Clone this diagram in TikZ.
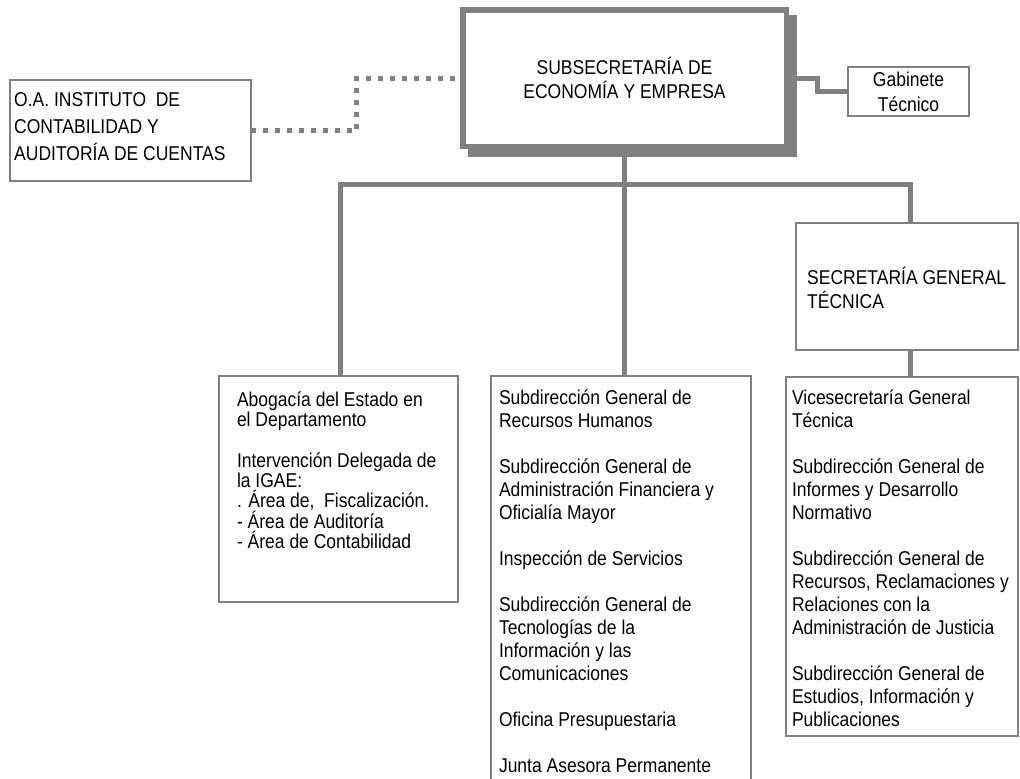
\documentclass[tikz,border=0pt]{standalone}
\usepackage{fontspec}
\setmainfont{Liberation Sans}[FakeStretch=0.875]
\usetikzlibrary{backgrounds,calc}
\definecolor{lineg}{HTML}{808080}
\begin{document}
\begin{tikzpicture}[x=1pt,y=-1pt,
  box/.style={draw=lineg, line width=2.2pt, fill=white, inner sep=0pt, outer sep=0pt},
  subbox/.style={draw=lineg, line width=5.5pt, fill=white, inner sep=0pt, outer sep=0pt, align=center,
    font=\fontsize{20}{24.5}\selectfont},
  conn/.style={draw=lineg, line width=5pt},
  dotconn/.style={draw=lineg, line width=5pt, dash pattern=on 5pt off 7pt},
  txt/.style={inner sep=0pt, outer sep=0pt, align=left, anchor=north west},
  lowfont/.style={font=\fontsize{20}{23}\selectfont},
]
\useasboundingbox (0,0) rectangle (1020,779);

% top box
\node[subbox, minimum width=323.5pt, minimum height=136.5pt] (sub) at (624.5,78)
  {SUBSECRETARÍA DE\\ECONOMÍA Y EMPRESA};
\begin{scope}[on background layer]
  \fill[lineg] ($(sub.south west)+(5.25,10.75)$) rectangle ($(sub.north east)+(10.75,5.25)$);
\end{scope}

% Gabinete
\node[box, minimum width=120.8pt, minimum height=48.8pt, align=center,
  font=\fontsize{20}{25}\selectfont] (gab) at (908.5,91.5) {Gabinete\\Técnico};

% O.A.
\node[box, minimum width=240.8pt, minimum height=100.8pt] (oa) at (130.5,130.5) {};
\node[inner sep=0pt, align=left, anchor=west, font=\fontsize{20}{27}\selectfont] (oatxt) at (14,127)
  {O.A. INSTITUTO\ \ DE\\CONTABILIDAD Y\\AUDITORÍA DE CUENTAS};

% Secretaria general tecnica
\node[box, minimum width=221.8pt, minimum height=126.8pt] (sec) at (907,286.5) {};
\node[inner sep=0pt, align=left, anchor=west, font=\fontsize{20}{23.5}\selectfont] (sectxt) at (807,288)
  {SECRETARÍA GENERAL\\TÉCNICA};

% lower boxes
\node[box, minimum width=238.8pt, minimum height=225.8pt] (abo) at (338.5,489) {};
\node[box, minimum width=259.8pt, minimum height=423.9pt] (mid) at (621,588) {};
\node[box, minimum width=231.8pt, minimum height=358.8pt] (vice) at (902,556.5) {};

\node[txt, font=\fontsize{20}{20.3}\selectfont] (abotxt) at (237,391.5)
  {Abogacía del Estado en\\el Departamento\\[20.3pt]
   Intervención Delegada de\\la IGAE:\\. Área de,\ \ Fiscalización.\\- Área de Auditoría\\- Área de Contabilidad};

\node[txt, lowfont] (midtxt) at (499,389.5)
  {Subdirección General de\\Recursos Humanos\\[23pt]
   Subdirección General de\\Administración Financiera y\\Oficialía Mayor\\[23pt]
   Inspección de Servicios\\[23pt]
   Subdirección General de\\Tecnologías de la\\Información y las\\Comunicaciones\\[23pt]
   Oficina Presupuestaria\\[23pt]
   Junta Asesora Permanente};

\node[txt, lowfont] (vicetxt) at (792,389.5)
  {Vicesecretaría General\\Técnica\\[23pt]
   Subdirección General de\\Informes y Desarrollo\\Normativo\\[23pt]
   Subdirección General de\\Recursos, Reclamaciones y\\Relaciones con la\\Administración de Justicia\\[23pt]
   Subdirección General de\\Estudios, Información y\\Publicaciones};

% connectors
\coordinate (busL) at (340,184.5);
\coordinate (busR) at (910,184.5);
\draw[conn] (sub.east) -- ++(31,0) |- (gab.west);
\draw[dotconn] (oa.east) -- ++(106,0) |- (sub.west);
\draw[conn] (sub.south) -- (sub.south |- mid.north);
\draw[conn] (busL |- abo.north) -- (busL) -- (busR) -- (busR |- sec.north);
\draw[conn] (busR |- sec.south) -- (busR |- vice.north);
\end{tikzpicture}
\end{document}
